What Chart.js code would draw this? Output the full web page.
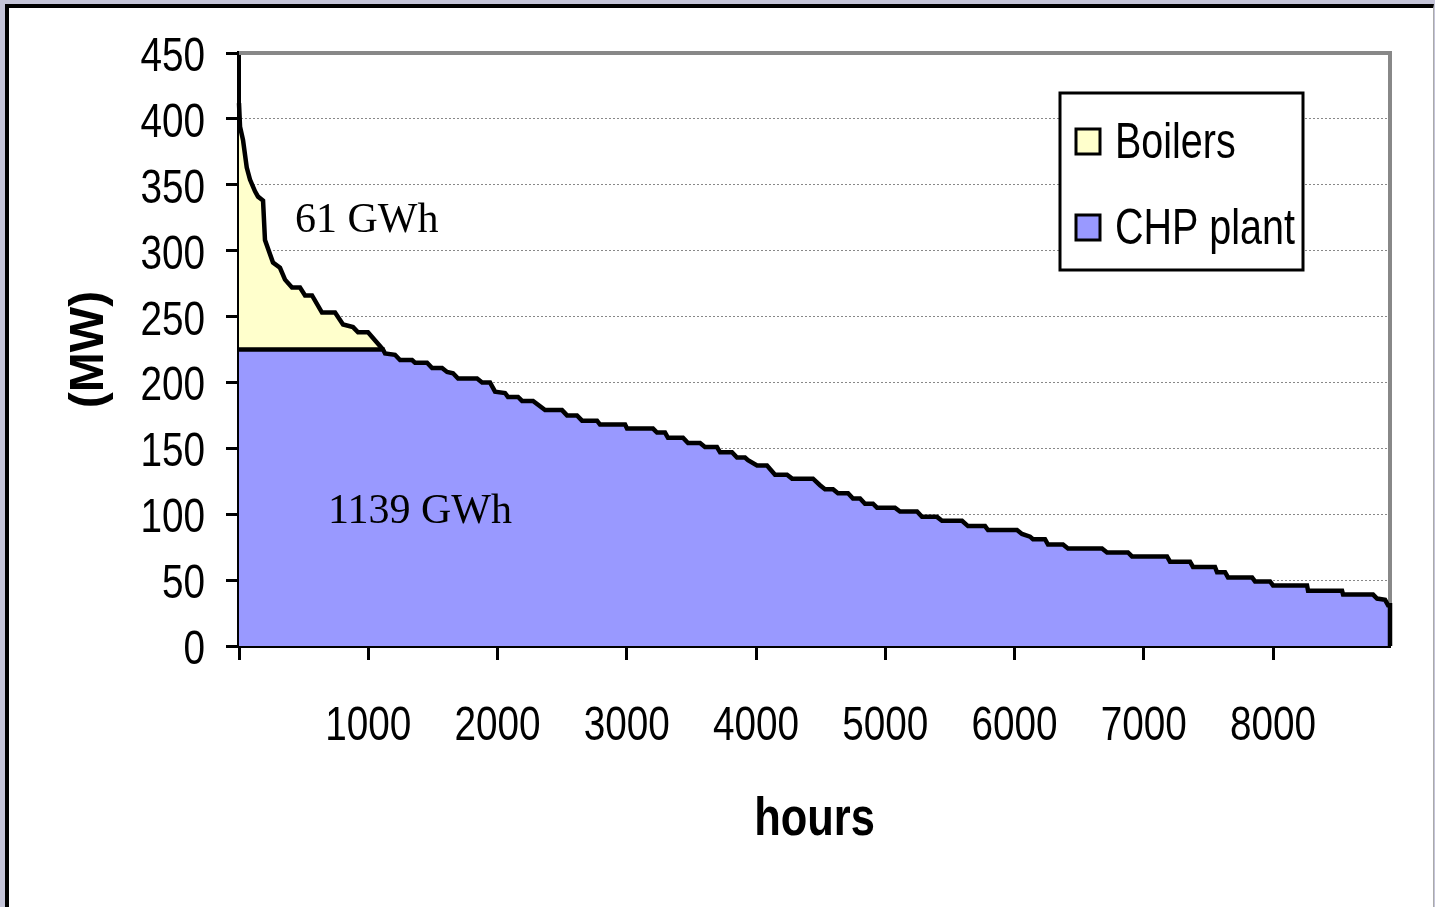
<!DOCTYPE html>
<html>
<head>
<meta charset="utf-8">
<script src="https://cdn.jsdelivr.net/npm/chart.js@4.4.0/dist/chart.umd.min.js"></script>
<style>
    html, body { margin: 0; padding: 0; background: #c4c4d8; overflow: hidden; }
    #moldura {
        position: absolute; left: 5px; top: 4px; width: 1424px; height: 920px;
        background: #fff; border-left: 4px solid #000; border-top: 4px solid #000; border-right: 1px solid #aaa;
    }
    #grafico { position: absolute; left: 0; top: 0; }
</style>
</head>
<body>
<div id="moldura"></div>
<canvas id="grafico" width="1435" height="907"></canvas>
<script>
// dados da curva de duração (horas x MW)
const horasCaldeiras = [0, 8, 31, 60, 85, 124, 147, 186, 201, 263, 317, 356, 410, 472, 511, 565, 642, 743, 805, 882, 921, 998, 1114];
const mwCaldeiras = [412, 394, 384, 363, 354, 345, 341, 338, 308, 291, 287, 278, 272, 272, 266, 266, 253, 253, 244, 242, 238, 238, 225];

const horasCHP = [0, 1114, 1130, 1207, 1246, 1339, 1362, 1455, 1494, 1571, 1610, 1656, 1695, 1842, 1881, 1942, 1981, 2058, 2081, 2159,
    2190, 2275, 2368, 2499, 2538, 2615, 2654, 2770, 2793, 2987, 3002, 3203, 3234, 3296, 3319, 3435, 3474, 3567, 3605, 3698,
    3722, 3814, 3853, 3915, 3938, 4008, 4085, 4147, 4240, 4279, 4441, 4495, 4534, 4596, 4634, 4712, 4750, 4805, 4843, 4905,
    4936, 5075, 5114, 5246, 5284, 5400, 5439, 5594, 5640, 5772, 5795, 6019, 6058, 6120, 6143, 6236, 6259, 6375, 6414, 6677,
    6716, 6878, 6909, 7180, 7203, 7358, 7381, 7551, 7567, 7629, 7652, 7838, 7861, 7977, 8000, 8263, 8271, 8534, 8542, 8774,
    8805, 8867, 8890, 8905, 8905];
const mwCHP = [225, 225, 222, 221, 217, 217, 215, 215, 211, 211, 208, 207, 203, 203, 200, 200, 193, 192, 189, 189,
    186, 186, 179, 179, 175, 175, 171, 171, 168, 168, 165, 165, 162, 162, 158, 158, 154, 154, 151, 151,
    147, 147, 143, 143, 141, 137, 137, 130, 130, 127, 127, 122, 119, 119, 116, 116, 112, 112, 108, 108,
    105, 105, 102, 102, 98, 98, 95, 95, 91, 91, 88, 88, 85, 83, 81, 81, 77, 77, 74, 74,
    71, 71, 68, 68, 64, 64, 60, 60, 56, 56, 52, 52, 49, 49, 46, 46, 42, 42, 39, 39,
    36, 35, 31, 31, 0];

const capacidadeCHP = 225; // linha onde termina a CHP e começa as caldeiras
const horasMax = 8905;
const ticksMW = [0, 50, 100, 150, 200, 250, 300, 350, 400, 450];
const ticksHoras = [0, 1000, 2000, 3000, 4000, 5000, 6000, 7000, 8000];
const rotulosHorasEixo = ['', '1000', '2000', '3000', '4000', '5000', '6000', '7000', '8000'];

// textos de energia dentro das areas
const rotulosTexto = ['61 GWh', '1139 GWh'];
const rotulosHoras = [433, 689];
const rotulosMW = [314, 93];

const fonteSans = "'Liberation Sans', Arial, sans-serif";
const estreito = 0.79; // o excel original tem a fonte bem apertada

// escreve texto achatado na horizontal
const textoEstreito = (ctx, txt, x, y, alinh, escala) => {
    ctx.save();
    ctx.translate(x, y);
    ctx.scale(escala, 1);
    ctx.textAlign = alinh;
    ctx.textBaseline = 'alphabetic';
    ctx.fillText(txt, 0, 0);
    ctx.restore();
};

// borda cinza em cima e na direita da area do grafico
const bordaPlot = {
    id: 'bordaPlot',
    beforeDatasetsDraw(chart) {
        const { ctx, chartArea: a } = chart;
        ctx.save();
        ctx.strokeStyle = '#888';
        ctx.lineWidth = 4;
        ctx.beginPath();
        ctx.moveTo(a.left, a.top);
        ctx.lineTo(a.right, a.top);
        ctx.lineTo(a.right, a.bottom);
        ctx.stroke();
        ctx.restore();
    }
};

// numeros dos eixos e o titulo "hours"
const textosEixos = {
    id: 'textosEixos',
    afterDraw(chart) {
        const { ctx, chartArea: a, scales } = chart;
        ctx.save();
        ctx.fillStyle = '#000';
        ctx.font = '49px ' + fonteSans;
        ticksMW.forEach(v => {
            textoEstreito(ctx, String(v), a.left - 34, scales.y.getPixelForValue(v) + 18, 'right', estreito);
        });
        ticksHoras.forEach((v, i) => {
            textoEstreito(ctx, rotulosHorasEixo[i], scales.x.getPixelForValue(v), a.bottom + 94, 'center', estreito);
        });
        ctx.font = 'bold 53px ' + fonteSans;
        textoEstreito(ctx, 'hours', (a.left + a.right) / 2, a.bottom + 189, 'center', 0.82);
        ctx.restore();
    }
};

// escreve os GWh nas posições (horas, MW)
const rotulos = {
    id: 'rotulos',
    afterDatasetsDraw(chart) {
        const { ctx, scales } = chart;
        ctx.save();
        ctx.fillStyle = '#000';
        ctx.font = "42px 'Liberation Serif', 'Times New Roman', serif";
        ctx.textAlign = 'left';
        ctx.textBaseline = 'alphabetic';
        rotulosTexto.forEach((t, i) => {
            ctx.fillText(t, scales.x.getPixelForValue(rotulosHoras[i]), scales.y.getPixelForValue(rotulosMW[i]));
        });
        ctx.restore();
    }
};

// legenda desenhada na mão dentro do grafico, igual ao excel
const legenda = {
    id: 'legenda',
    afterDraw(chart) {
        const { ctx, chartArea: a } = chart;
        const x = a.right - 330, y = a.top + 40, w = 243, h = 177;
        ctx.save();
        ctx.fillStyle = '#fff';
        ctx.fillRect(x, y, w, h);
        ctx.lineWidth = 3;
        ctx.strokeStyle = '#000';
        ctx.strokeRect(x, y, w, h);
        ctx.font = '50px ' + fonteSans;
        chart.data.datasets.forEach((ds, i) => {
            const topo = y + 36 + i * 86;
            ctx.fillStyle = ds.backgroundColor;
            ctx.fillRect(x + 16, topo, 24, 25);
            ctx.lineWidth = 3;
            ctx.strokeRect(x + 16, topo, 24, 25);
            ctx.fillStyle = '#000';
            textoEstreito(ctx, ds.label, x + 55, topo + 29, 'left', estreito);
        });
        ctx.restore();
    }
};

const ctx = document.getElementById('grafico').getContext('2d');

new Chart(ctx, {
    type: 'line',
    data: {
        datasets: [{
            label: 'Boilers',
            data: horasCaldeiras.map((h, i) => ({ x: h, y: mwCaldeiras[i] })),
            backgroundColor: '#ffffcc',
            borderColor: '#000',
            borderWidth: 4.5,
            pointRadius: 0,
            fill: { value: capacidadeCHP },
            clip: false,
            order: 1
        }, {
            // order 0 -> desenhada por ultimo, assim a linha dos 225 MW fica por cima do amarelo
            label: 'CHP plant',
            data: horasCHP.map((h, i) => ({ x: h, y: mwCHP[i] })),
            backgroundColor: '#9999ff',
            borderColor: '#000',
            borderWidth: 4.5,
            pointRadius: 0,
            fill: 'origin',
            clip: false,
            order: 0
        }]
    },
    options: {
        responsive: false,
        animation: false,
        layout: { padding: { left: 0, top: 53, right: 45, bottom: 0 } },
        plugins: { legend: { display: false }, tooltip: { enabled: false } },
        scales: {
            x: {
                type: 'linear',
                min: 0,
                max: horasMax,
                afterBuildTicks: (s) => { s.ticks = ticksHoras.map(v => ({ value: v })); },
                afterFit: (s) => { s.height = 907 - 646; },
                ticks: { display: false },
                grid: { drawOnChartArea: false, tickColor: '#000', tickWidth: 3, tickLength: 14 },
                border: { color: '#000', width: 4 }
            },
            y: {
                min: 0,
                max: 450,
                afterBuildTicks: (s) => { s.ticks = ticksMW.map(v => ({ value: v })); },
                afterFit: (s) => { s.width = 239; },
                ticks: { display: false },
                grid: { color: '#888', lineWidth: 1, tickColor: '#000', tickWidth: 3, tickLength: 13 },
                border: { color: '#000', width: 4, dash: [2, 2] },
                title: {
                    display: true,
                    text: '(MW)',
                    color: '#000',
                    font: { family: fonteSans, size: 48, weight: 'bold' },
                    padding: { top: 61, bottom: 0 }
                }
            }
        }
    },
    plugins: [bordaPlot, rotulos, textosEixos, legenda]
});
</script>
</body>
</html>
